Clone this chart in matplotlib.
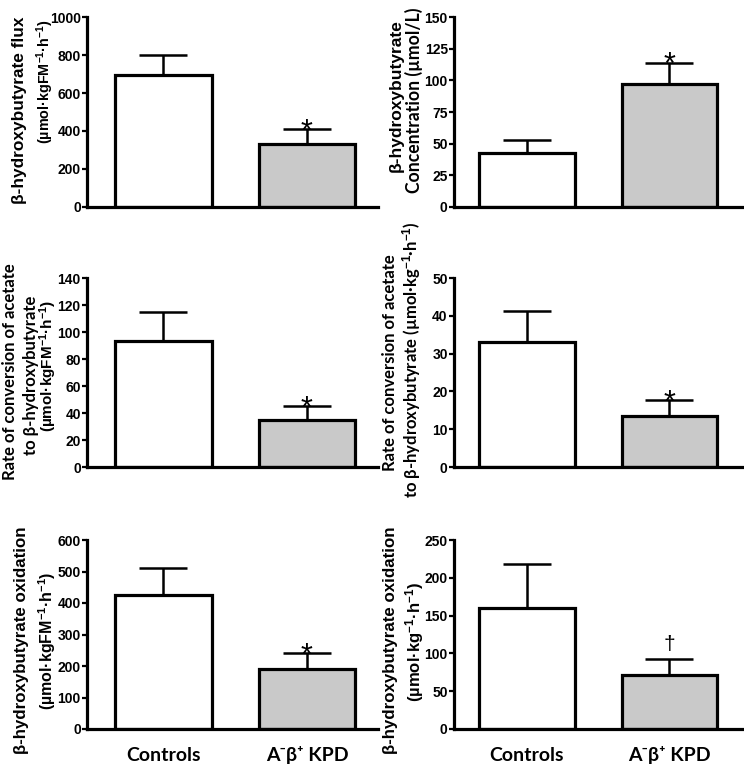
import numpy as np
import matplotlib
matplotlib.use("Agg")
import matplotlib.pyplot as plt

plt.rcParams['mathtext.fontset'] = 'custom'
plt.rcParams['mathtext.rm'] = 'Liberation Sans:bold'
plt.rcParams['mathtext.default'] = 'rm'

ARIAL = ['Liberation Sans', 'DejaVu Sans']
CALIBRI = ['Lato', 'DejaVu Sans']

groups = ['Controls', 'A\u207b\u03b2\u207a KPD']

flux_mean = [695, 330]
flux_err = [105, 80]
conc_mean = [43, 97]
conc_err = [10, 17]
conv_fm_mean = [93, 34.5]
conv_fm_err = [22, 10.5]
conv_kg_mean = [33, 13.5]
conv_kg_err = [8.3, 4.2]
ox_fm_mean = [425, 192]
ox_fm_err = [85, 48]
ox_kg_mean = [160, 72]
ox_kg_err = [58, 20]

y_max = [1000, 150, 140, 50, 600, 250]
y_step = [200, 25, 20, 10, 100, 50]
signif = ['*', '*', '*', '*', '*', '\u2020']

# y label lines: (x px, y px, text, font, size)
ylabels = [
    [(20, 110, 'β-hydroxybutyrate flux', ARIAL, 12.4),
     (45, 82, '(µmol·kgFM$^{-1}$·h$^{-1}$)', ARIAL, 10.4)],
    [(396, 96, 'β-hydroxybutyrate', ARIAL, 12.5),
     (414, 100, 'Concentration (µmol/L)', CALIBRI, 12.7)],
    [(10, 372, 'Rate of conversion of acetate', CALIBRI, 12),
     (31, 375, 'to β-hydroxybutyrate', CALIBRI, 12),
     (48, 366, '(µmol·kgFM$^{-1}$·h$^{-1}$)', ARIAL, 11)],
    [(390, 363, 'Rate of conversion of acetate', CALIBRI, 12),
     (412, 360, 'to β-hydroxybutyrate (µmol·kg$^{-1}$·h$^{-1}$)', CALIBRI, 12)],
    [(22, 640, 'β-hydroxybutyrate oxidation', ARIAL, 12.2),
     (47, 641, '(µmol·kgFM$^{-1}$·h$^{-1}$)', ARIAL, 11.5)],
    [(390, 640, 'β-hydroxybutyrate oxidation', ARIAL, 12.2),
     (415, 642, '(µmol·kg$^{-1}$·h$^{-1}$)', ARIAL, 12)],
]

means = [flux_mean, conc_mean, conv_fm_mean, conv_kg_mean, ox_fm_mean, ox_kg_mean]
errs = [flux_err, conc_err, conv_fm_err, conv_kg_err, ox_fm_err, ox_kg_err]

W, H = 744, 772
fig = plt.figure(figsize=(W / 100, H / 100), dpi=100)

# axes boxes in pixels: left spine x, right end x, top y, zero y
cols = [(87, 378, (-0.533, 1.495)), (454, 742, (-0.512, 1.509))]
rows = [(17, 207), (278, 467), (540, 729)]

bar_colors = ['white', '#c9c9c9']
width = 0.67

for i in range(6):
    x0, x1, xlim = cols[i % 2]
    top, zero = rows[i // 2]
    ax = fig.add_axes([x0 / W, 1 - zero / H, (x1 - x0) / W, (zero - top) / H])
    x = np.arange(len(groups))
    m = np.array(means[i])
    e = np.array(errs[i])
    ax.errorbar(x, m, yerr=[np.zeros_like(e), e], fmt='none', ecolor='black',
                elinewidth=1.8, capsize=17, capthick=1.8, zorder=1)
    ax.bar(x, m, width=width, color=bar_colors, edgecolor='black',
           linewidth=2.3, zorder=2)
    if signif[i] == '*':
        ax.annotate('*', xy=(1, m[1] + e[1]), xytext=(0, -8.5),
                    textcoords='offset points', ha='center', va='baseline',
                    fontsize=22, family=ARIAL)
    else:
        ax.annotate(signif[i], xy=(1, m[1] + e[1]), xytext=(0, 6.5),
                    textcoords='offset points', ha='center', va='baseline',
                    fontsize=15, family=ARIAL)
    ax.set_xlim(*xlim)
    ax.set_ylim(0, y_max[i])
    ax.set_yticks(np.arange(0, y_max[i] + 1, y_step[i]))
    ax.set_xticks([])
    for s in ['top', 'right']:
        ax.spines[s].set_visible(False)
    for s in ['left', 'bottom']:
        ax.spines[s].set_linewidth(2.3)
    ax.tick_params(axis='y', direction='out', length=3.5, width=1.6, pad=1)
    for lab in ax.get_yticklabels():
        lab.set_family(ARIAL)
        lab.set_fontweight('bold')
        lab.set_fontsize(10)
    if i >= 4:
        for xi, g in zip(x, groups):
            ax.text(xi, -0.14, g, transform=ax.get_xaxis_transform(),
                    ha='center', va='center', fontsize=14, fontweight='bold',
                    family=CALIBRI)
    for (px, py, txt, fam, fs) in ylabels[i]:
        fig.text(px / W, 1 - py / H, txt, rotation=90, ha='center', va='center',
                 fontsize=fs, fontweight='bold', family=fam)

fig.savefig('out.png', dpi=100)
